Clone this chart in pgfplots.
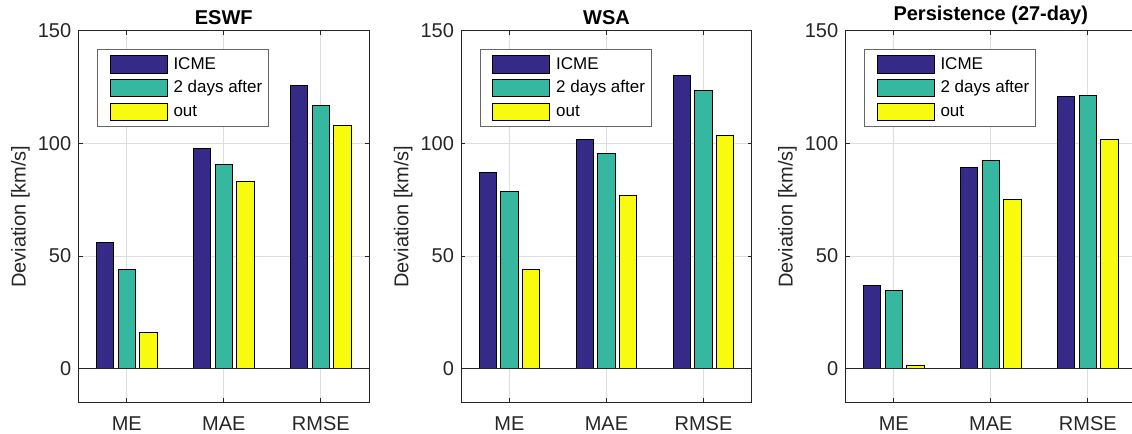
\documentclass[border=0pt]{standalone}
\usepackage{fontspec}
\setmainfont{Liberation Sans}
\usepackage{pgfplots}
\pgfplotsset{compat=1.18}
\definecolor{cICME}{RGB}{53,42,135}
\definecolor{cAfter}{RGB}{54,184,160}
\definecolor{cOut}{RGB}{249,251,14}
\definecolor{axgray}{RGB}{38,38,38}
\definecolor{gridgray}{RGB}{222,222,222}
\pgfplotsset{
  barleg/.style={legend image code/.code={\path (0pt,0pt); \draw[##1] (5.85pt,-4.3pt) rectangle (34.35pt,4.3pt);}},
  bars/.style={ybar, bar width=8.65pt, draw=black, line width=0.5pt, barleg},
  panel/.style={
    scale only axis, width=145.5pt, height=185.65pt,
    xmin=0.5, xmax=3.5, ymin=-15, ymax=150,
    xtick={1,2,3}, xticklabels={ME,MAE,RMSE},
    ytick={0,50,100,150},
    tick align=inside, major tick length=2.2pt,
    tick style={axgray, line width=0.5pt},
    axis line style={axgray, line width=0.5pt},
    grid=major, major grid style={gridgray, line width=0.5pt},
    every tick label/.append style={font=\fontsize{10}{12}\selectfont, text=axgray},
    /pgf/number format/assume math mode=true,
    xticklabel style={yshift=-3.5pt},
    ylabel={Deviation [km/s]},
    ylabel style={at={(axis description cs:-0.199,0.5)}, anchor=center, font=\fontsize{10}{12}\selectfont, text=axgray},
    title style={at={(0.5,1)}, anchor=south, yshift=-6.5pt, font=\bfseries\fontsize{10}{12}\selectfont},
    legend style={at={(0.0653,0.9515)}, anchor=north west, draw=black!60, line width=0.5pt,
      font=\fontsize{8.5}{10}\selectfont, inner xsep=0pt, inner ysep=1.8pt, row sep=0.5pt,
      nodes={text height=6.5pt, text depth=1.8pt, inner xsep=3pt, inner ysep=1.5pt}},
    legend cell align=left,
  },
}
\begin{document}
\begin{tikzpicture}
\begin{axis}[panel, at={(39.15pt,15.85pt)}, anchor=south west, title={ESWF}]
\addplot[bars, fill=cICME, bar shift=-10.85pt] coordinates {(1,56.0) (2,97.9) (3,125.6)};
\addplot[bars, fill=cAfter, bar shift=0pt] coordinates {(1,44.1) (2,90.5) (3,117.0)};
\addplot[bars, fill=cOut, bar shift=10.85pt] coordinates {(1,16.1) (2,83.1) (3,108.2)};
\addplot[axgray, line width=0.5pt, forget plot] coordinates {(0.5,0) (3.5,0)};
\legend{ICME, 2 days after, out}
\end{axis}
\begin{axis}[panel, at={(230.5pt,15.85pt)}, anchor=south west, title={WSA}]
\addplot[bars, fill=cICME, bar shift=-10.85pt] coordinates {(1,87.2) (2,101.6) (3,130.2)};
\addplot[bars, fill=cAfter, bar shift=0pt] coordinates {(1,78.6) (2,95.5) (3,123.5)};
\addplot[bars, fill=cOut, bar shift=10.85pt] coordinates {(1,43.8) (2,77.1) (3,103.5)};
\addplot[axgray, line width=0.5pt, forget plot] coordinates {(0.5,0) (3.5,0)};
\legend{ICME, 2 days after, out}
\end{axis}
\begin{axis}[panel, at={(422.65pt,15.85pt)}, anchor=south west, title={Persistence (27-day)}]
\addplot[bars, fill=cICME, bar shift=-10.85pt] coordinates {(1,37.0) (2,89.4) (3,120.8)};
\addplot[bars, fill=cAfter, bar shift=0pt] coordinates {(1,34.7) (2,92.4) (3,121.3)};
\addplot[bars, fill=cOut, bar shift=10.85pt] coordinates {(1,1.2) (2,75.1) (3,101.7)};
\addplot[axgray, line width=0.5pt, forget plot] coordinates {(0.5,0) (3.5,0)};
\legend{ICME, 2 days after, out}
\end{axis}
\pgfresetboundingbox
\useasboundingbox (0,0) rectangle (566pt,217pt);
\end{tikzpicture}
\end{document}
